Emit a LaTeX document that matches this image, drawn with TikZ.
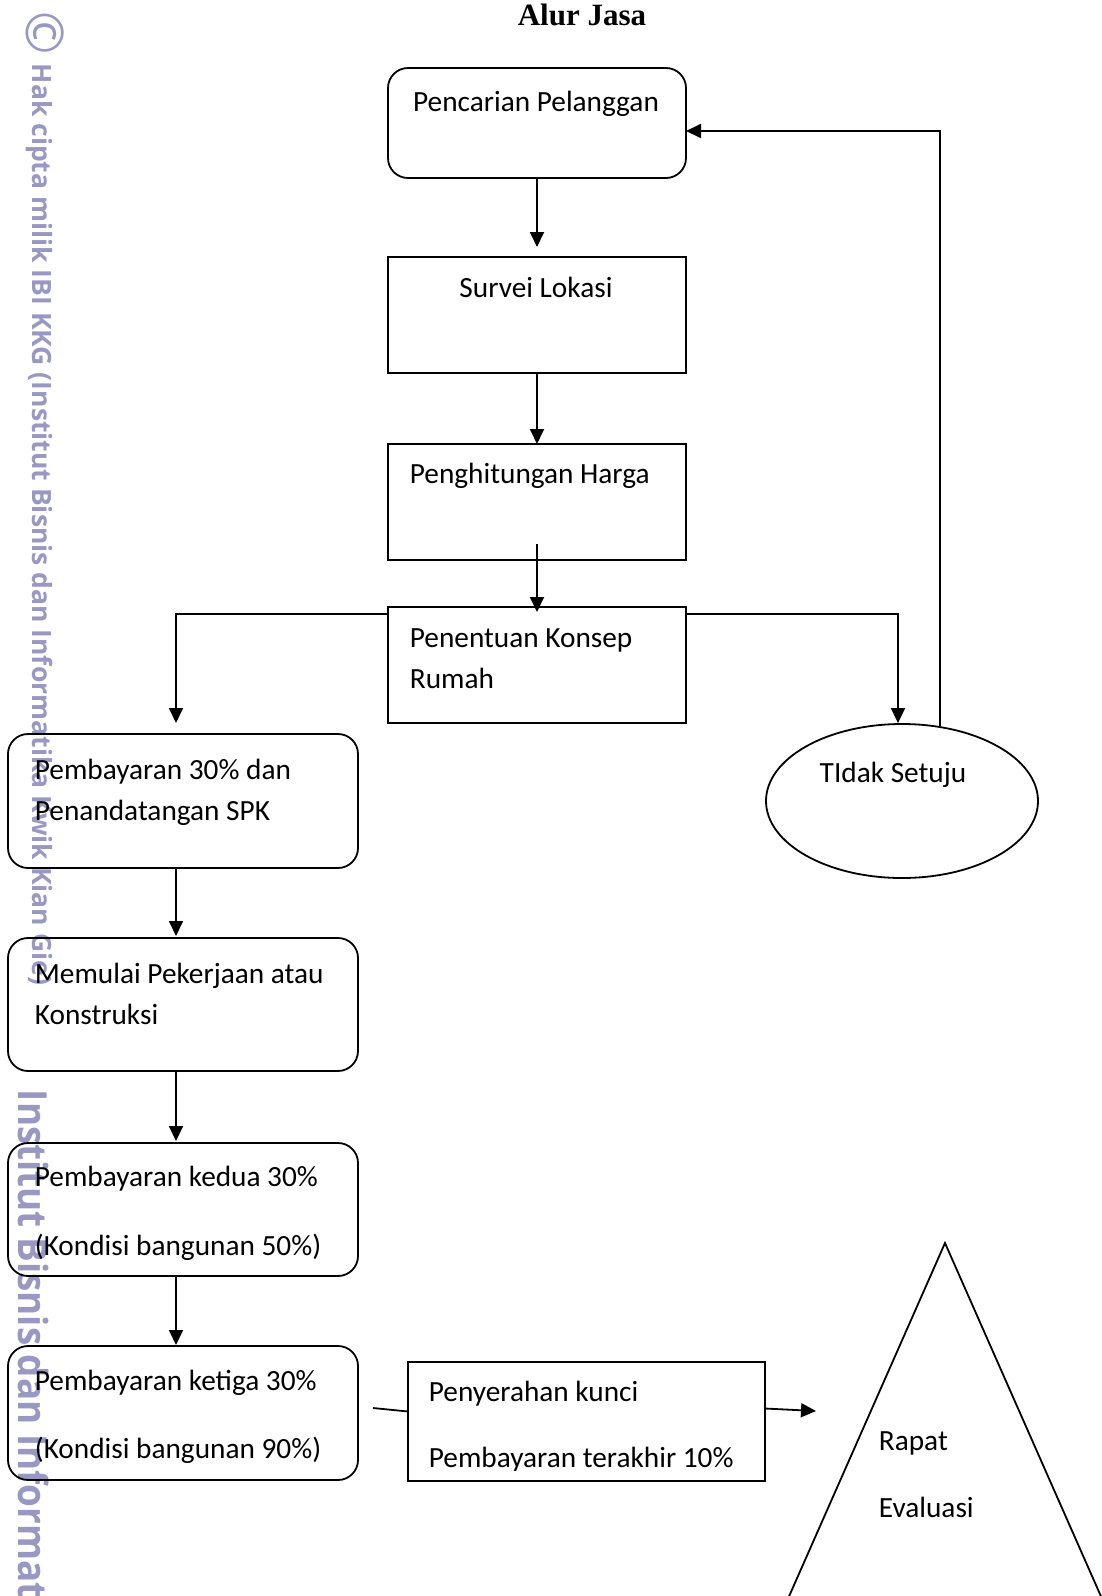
\documentclass[tikz,border=0pt]{standalone}
\usepackage{fontspec}
\setmainfont{Carlito}
\newfontfamily\titlefont{Liberation Serif}
\newfontfamily\wmfont{Open Sans}
\newfontfamily\wmbig[FakeStretch=0.92]{Open Sans}
\usetikzlibrary{arrows.meta,shapes.geometric}
\definecolor{wmcol}{RGB}{152,152,194}
\begin{document}
\begin{tikzpicture}[x=1pt,y=-1pt,line width=1.8pt,
  rbox/.style={draw, rounded corners=20pt, anchor=north west, inner sep=0pt, outer sep=0pt},
  sbox/.style={draw, anchor=north west, inner sep=0pt, outer sep=0pt},
  lbl/.style={anchor=base west, inner sep=0pt, font=\fontsize{29.3}{35}\selectfont},
  clbl/.style={anchor=base, inner sep=0pt, font=\fontsize{29.3}{35}\selectfont},
  arr/.style={-{Triangle[width=14pt,length=15pt]}},
  wm/.style={text=wmcol, rotate=-90, inner sep=0pt}]
\useasboundingbox (0,0) rectangle (1102,1596);

% watermark
\node[wm, font=\wmfont\fontsize{52}{52}\selectfont] (wmc) at (45,33) {©};
\node[wm, anchor=base west, font=\wmfont\bfseries\fontsize{26.5}{30}\selectfont] (wm1) at (32,63)
  {Hak cipta milik IBI KKG (Institut Bisnis dan Informatika Kwik Kian Gie)};
\node[wm, anchor=base west, font=\wmbig\bfseries\fontsize{40}{48}\selectfont] (wm2) at (18,1089)
  {Institut Bisnis dan Informatika};

% title
\node[anchor=base, inner sep=0pt, font=\titlefont\bfseries\fontsize{31}{36}\selectfont] (title) at (582,25) {Alur Jasa};

% boxes
\node[rbox, minimum width=298pt, minimum height=110pt] (cari) at (388,68) {};
\node[clbl] (caritxt) at (536,111) {Pencarian Pelanggan};
\node[sbox, minimum width=298pt, minimum height=116pt] (survei) at (388,257) {};
\node[clbl] (surveitxt) at (536,297) {Survei Lokasi};
\node[sbox, minimum width=298pt, minimum height=116pt] (hitung) at (388,444) {};
\node[lbl] (hitungtxt) at (409,483) {Penghitungan Harga};
\node[sbox, minimum width=298pt, minimum height=116pt] (konsep) at (388,607) {};
\node[lbl] (konseptxt1) at (409,647) {Penentuan Konsep};
\node[lbl] (konseptxt2) at (409,688) {Rumah};

\node[draw, ellipse, minimum width=272pt, minimum height=154pt, inner sep=0pt] (tidak) at (902,801) {};
\node[clbl] (tidaktxt) at (893,782) {TIdak Setuju};

\node[rbox, minimum width=350pt, minimum height=134pt] (bayar1) at (8,734) {};
\node[lbl] (b1a) at (34,779) {Pembayaran 30\% dan};
\node[lbl] (b1b) at (34,820) {Penandatangan SPK};
\node[rbox, minimum width=350pt, minimum height=133pt] (mulai) at (8,938) {};
\node[lbl] (ma) at (34,983) {Memulai Pekerjaan atau};
\node[lbl] (mb) at (34,1024) {Konstruksi};
\node[rbox, minimum width=350pt, minimum height=133pt] (bayar2) at (8,1143) {};
\node[lbl] (b2a) at (34,1186) {Pembayaran kedua 30\%};
\node[lbl] (b2b) at (34,1255) {(Kondisi bangunan 50\%)};
\node[rbox, minimum width=350pt, minimum height=134pt] (bayar3) at (8,1346) {};
\node[lbl] (b3a) at (34,1390) {Pembayaran ketiga 30\%};
\node[lbl] (b3b) at (34,1458) {(Kondisi bangunan 90\%)};

\node[sbox, minimum width=357pt, minimum height=119pt] (serah) at (408,1362) {};
\node[lbl] (sa) at (428,1401) {Penyerahan kunci};
\begin{scope}
  \clip (408,1362) rectangle (765,1470);
  \node[lbl] (sb) at (428,1467) {Pembayaran terakhir 10\%};
\end{scope}

% triangle
\draw (783,1610) -- (945,1243) -- (1107,1610);
\node[lbl] (ra) at (878,1450) {Rapat};
\node[lbl] (rb) at (878,1517) {Evaluasi};

% connectors
\draw[arr, shorten >=10pt] (cari.south) -- (survei.north);
\draw[arr] (survei.south) -- (hitung.north);
\draw[arr] ([yshift=16pt]hitung.south) -- ([yshift=-5pt]konsep.north);
\draw[arr] ([yshift=-7pt]konsep.north west) -| ([xshift=-7pt,yshift=11pt]bayar1.north);
\draw[arr] ([yshift=-7pt]konsep.north east) -| ([xshift=-4pt]tidak.north);
\coordinate (ret) at (940,726);
\draw[arr] (ret) |- ([yshift=-8pt]cari.east);
\draw[arr, shorten >=2pt] ([xshift=-7pt]bayar1.south) -- ([xshift=-7pt]mulai.north);
\draw[arr, shorten >=2pt] ([xshift=-7pt]mulai.south) -- ([xshift=-7pt]bayar2.north);
\draw[arr, shorten >=1pt] ([xshift=-7pt]bayar2.south) -- ([xshift=-7pt]bayar3.north);
\coordinate (s1) at (373,1408);
\draw (s1) -- ([yshift=10pt]serah.west);
\coordinate (trin) at (816,1411);
\draw[arr] ([yshift=13pt]serah.east) -- (trin);
\end{tikzpicture}
\end{document}
